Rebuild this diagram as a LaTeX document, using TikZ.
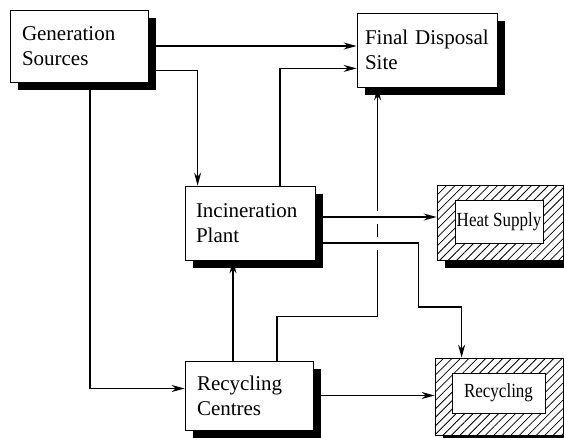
\documentclass[tikz,border=0pt]{standalone}
\usepackage{fontspec}
\setmainfont{Liberation Serif}
\newfontfamily\boxserif{Liberation Serif}
\newfontfamily\narrowserif[FakeStretch=0.85]{Liberation Serif}
\usetikzlibrary{arrows.meta,shadows,patterns.meta,backgrounds}

\tikzset{
  blockshadow/.style={general shadow={fill=black, shadow xshift=8pt, shadow yshift=-8pt}},
  flowbox/.style={draw, line width=0.8pt, fill=white, align=left, inner xsep=12pt, font=\boxserif\fontsize{21}{25}\selectfont, blockshadow},
  sinkbox/.style={draw, line width=0.8pt, inner sep=0pt, blockshadow, preaction={fill=white}, pattern={Lines[angle=45,distance=6pt,line width=0.8pt]}},
  sinklabel/.style={draw, line width=0.8pt, fill=white, inner sep=0pt, font=\narrowserif\fontsize{20}{24}\selectfont},
  flow/.style={-{Stealth[length=13pt,width=7pt]}, line width=1.3pt},
  linejump/.style={preaction={draw=white, line width=13pt, arrows=-}}
}

\begin{document}
\begin{tikzpicture}[x=1pt, y=1pt]
  \useasboundingbox (0,0) rectangle (564,437);

  %% process boxes
  \node[flowbox, text width=114pt, minimum height=72pt] (gen) at (79,391) {Generation\\Sources};
  \node[flowbox, inner xsep=8pt, text width=124pt, minimum height=74pt] (fds) at (427,387) {Final Disposal\\Site};
  \node[flowbox, inner xsep=11pt, text width=108pt, minimum height=74pt] (inc) at (250,214) {Incineration\\Plant};
  \node[flowbox, text width=104pt, minimum height=69pt] (rc) at (249,41.5) {Recycling\\Centres};

  %% hatched end boxes
  \node[sinkbox, minimum width=126pt, minimum height=75pt] (heat) at (500,214.5) {};
  \node[sinklabel, minimum width=88pt, minimum height=43pt] (heatlbl) at (499,215.5) {Heat Supply};
  \node[sinkbox, minimum width=128pt, minimum height=77pt] (rec) at (499,40.5) {};
  \node[sinklabel, minimum width=93pt, minimum height=40pt] (reclbl) at (498.5,44) {Recycling};

  %% connectors
  \begin{scope}[on background layer]
    \fill[white] (0,0) rectangle (564,437);
    \draw[flow] (gen.east) -- (gen.east -| fds.west);
    \draw[flow] ([yshift=12]gen.south east) -| ([xshift=13]inc.north west);
    \draw[flow] ([xshift=30]inc.north) |- ([yshift=19]fds.south west);
    \draw[flow] ([xshift=11]gen.south) |- ([yshift=7]rc.west);
    \draw[flow] ([xshift=-16]rc.north) -- ([xshift=-16]rc.north |- inc.south);
    \draw[flow] ([xshift=28]rc.north) -- ++(0,44) -| ([xshift=21]fds.south west);
    \draw[flow, linejump] ([yshift=6]inc.east) -- ([yshift=6]inc.east -| heat.west);
    \draw[flow, linejump] ([yshift=-20]inc.east) -| ++(103,-64) -| ([xshift=27]rec.north west);
    \draw[flow] (rc.east) -- (rc.east -| rec.west);
  \end{scope}
\end{tikzpicture}
\end{document}
